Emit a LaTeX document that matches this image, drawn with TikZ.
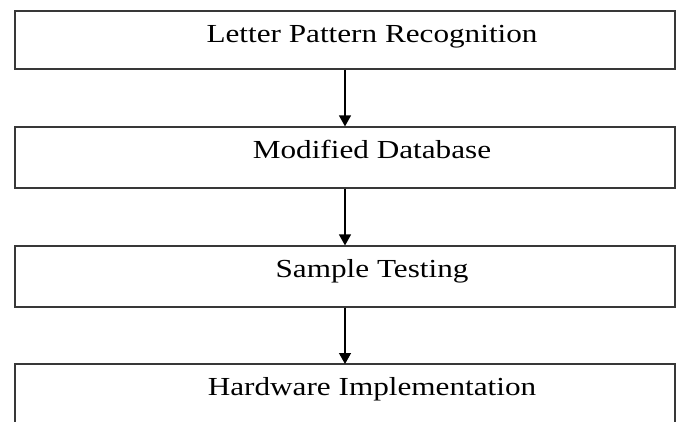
\documentclass[tikz,border=0pt]{standalone}
\usepackage{fontspec}
\setmainfont{Liberation Serif}
\usepackage{graphicx}
\usetikzlibrary{arrows.meta}
\newcommand{\stretchtext}[1]{\scalebox{1.2}[1]{#1}}
\begin{document}
\begin{tikzpicture}[x=1pt,y=-1pt,
  boxline/.style={draw=black!78,line width=1.2pt},
  flowbox/.style={boxline,rectangle,minimum width=660pt,inner sep=0pt},
  lbl/.style={anchor=base,inner sep=0pt,font=\fontsize{26}{31}\selectfont},
  arr/.style={draw=black,line width=1.3pt,-{Triangle[width=12pt,length=11pt]}}]
\useasboundingbox (0,0) rectangle (680,421);
\fill[white] (0,0) rectangle (680,421);
\node[flowbox,minimum height=58pt] (b1) at (345,40) {};
\node[flowbox,minimum height=61pt] (b2) at (345,157.5) {};
\node[flowbox,minimum height=61pt] (b3) at (345,276.5) {};
\coordinate (b4tl) at (15,364);
\coordinate (b4tr) at (675,364);
\coordinate (b4bl) at (15,422);
\coordinate (b4br) at (675,422);
\coordinate (b4top) at (345,364);
\draw[boxline] (b4bl) -- (b4tl) -- (b4tr) -- (b4br);
\node[lbl] (t1) at (372,42) {\stretchtext{Letter Pattern Recognition}};
\node[lbl] (t2) at (372,158) {\stretchtext{Modified Database}};
\node[lbl] (t3) at (372,277) {\stretchtext{Sample Testing}};
\node[lbl] (t4) at (372,395) {\stretchtext{Hardware Implementation}};
\draw[arr] (b1.south) -- (b2.north);
\draw[arr] (b2.south) -- (b3.north);
\draw[arr] (b3.south) -- (b4top);
\end{tikzpicture}
\end{document}
